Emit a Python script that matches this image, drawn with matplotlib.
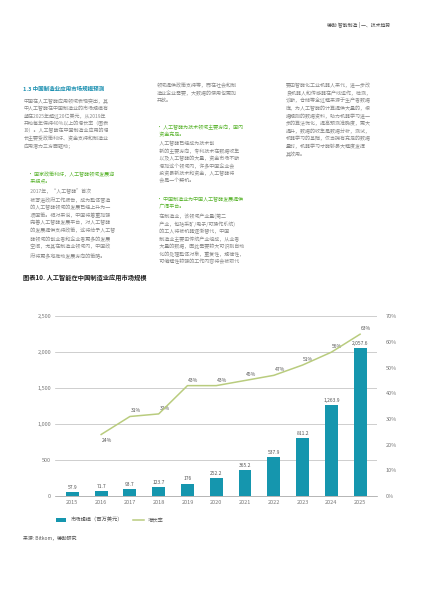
import matplotlib
matplotlib.use("Agg")
import matplotlib.pyplot as plt
from matplotlib.ticker import FuncFormatter

plt.rcParams['font.family'] = ['Noto Sans CJK SC', 'DejaVu Sans']

years = ['2015','2016','2017','2018','2019','2020','2021','2022','2023','2024','2025']
market = [57.9, 71.7, 93.7, 123.7, 176, 252.2, 365.2, 537.9, 811.2, 1263.9, 2057.6]
market_labels = ['57.9','71.7','93.7','123.7','176','252.2','365.2','537.9','811.2','1,263.9','2,057.6']
growth = [None, 24, 31, 32, 43, 43, 45, 47, 51, 56, 63]

fig = plt.figure(figsize=(4.24, 6), dpi=100)
fig.patch.set_facecolor('white')

grey = '#8a8a8a'
green = '#5cb531'
fig.text(0.92, 0.955, '德勤 智能制造 | 一、技术趋势', ha='right', fontsize=3.5, color='#555555')

col1 = "中国在人工智能应用领域表现突出，其\n中人工智能在中国制造业的市场规模有\n望在2025年超过20亿美元，从2019年\n开始每年保持40%以上的增长率（图表\n10）。人工智能在中国制造业应用的增\n长主要受政策利好、资金支持和制造业\n应用潜力三方面驱动；"
fig.text(0.055, 0.848, '1.3 中国制造业应用市场规模预测', fontsize=4, color='#1a8fb0', fontweight='bold')
fig.text(0.055, 0.836, col1, fontsize=3.6, color=grey, va='top', linespacing=1.5)
fig.text(0.065, 0.715, "• 国家政策利好，人工智能领域发展迎\n  来拐点。", fontsize=3.6, color=green, va='top', linespacing=1.5)
fig.text(0.065, 0.686, "  2017年，“人工智能”首次\n  被写进政府工作报告，成为整体营造\n  的人工智能领域的发展已经上升为一\n  项国策。相对来说，中国将着重加强\n  完善人工智能发展平台，对人工智能\n  的发展提供支持政策，这将给予人工智\n  能领域的创业者和企业者更多的发展\n  空间，尤其在制造业领域内，中国政\n  府将更多地推动发展方向的策略。", fontsize=3.6, color=grey, va='top', linespacing=1.5)

fig.text(0.37, 0.862, "领域提供政策支持等，而在社会和制\n造业企业需要，大数据的使用也更加\n开放。", fontsize=3.6, color=grey, va='top', linespacing=1.5)
fig.text(0.37, 0.792, "• 人工智能为技术领域主要方向，国内\n  资金充足。", fontsize=3.6, color=green, va='top', linespacing=1.5)
fig.text(0.37, 0.765, "  人工智能已经成为技术创\n  新的主要方向，专利技术在数据收集\n  以及人工智能的大量，资金市场不断\n  增加这个领域内，许多中国企业会\n  投资最新技术和资金，人工智能将\n  会是一个契机。", fontsize=3.6, color=grey, va='top', linespacing=1.5)
fig.text(0.37, 0.672, "• 中国制造业为中国人工智能发展提供\n  广阔平台。", fontsize=3.6, color=green, va='top', linespacing=1.5)
fig.text(0.37, 0.645, "  在制造业，该领域产业量(第二\n  产业，包括采矿/电子/可操作系统)\n  的工人将被机器逐渐替代，中国\n  制造业主要由传统产业组成，从业者\n  大量的数据，因此需要较大可识别自动\n  化的处理整体对象，重复性，规律性，\n  可编程性较强的工作内容将会被取代", fontsize=3.6, color=grey, va='top', linespacing=1.5)

fig.text(0.675, 0.862, "要由智能化工业机器人来代，进一步改\n良机器人和传感器在产线运作，检测，\n诊断，仓储等全过程来源于生产者数据\n库，为人工智能的计算提供大量的，根\n据规则的数据资料，助力机器学习进一\n步的算法优化，提高预测准确度，更大\n提升，数据的收集是数据分析，测试，\n机器学习的基础，仅当拥有充足的数据\n量时，机器学习才能够最大程度发挥\n其效用。", fontsize=3.6, color=grey, va='top', linespacing=1.5)

fig.text(0.055, 0.533, '图表10. 人工智能在中国制造业应用市场规模', fontsize=4.5, color='#222222', fontweight='bold')

ax = fig.add_axes([0.13, 0.173, 0.76, 0.30])
x = list(range(len(years)))
bars = ax.bar(x, market, width=0.45, color='#1596ae', zorder=3, label='市场规模（百万美元）')
for xi, v, lab in zip(x, market, market_labels):
    ax.text(xi, v + 30, lab, ha='center', va='bottom', fontsize=3.6, color='#555555', zorder=4)
ax.set_ylim(0, 2500)
ax.set_yticks([0, 500, 1000, 1500, 2000, 2500])
ax.yaxis.set_major_formatter(FuncFormatter(lambda v, p: f'{int(v):,}'))
ax.set_xticks(x)
ax.set_xticklabels(years)
ax.set_xlim(-0.6, len(years) - 0.4)
ax.grid(axis='y', color='#bbbbbb', linewidth=0.5, zorder=0)
for s in ax.spines.values():
    s.set_visible(False)
ax.spines['bottom'].set_visible(True)
ax.spines['bottom'].set_color('#999999')
ax.spines['bottom'].set_linewidth(0.5)
ax.tick_params(length=0, labelsize=4, colors='#777777', pad=3)

ax2 = ax.twinx()
gx = [xi for xi, g in zip(x, growth) if g is not None]
gy = [g for g in growth if g is not None]
line, = ax2.plot(gx, gy, color='#b9cc7e', linewidth=1.1, zorder=5, label='增长率')
for xi, g in zip(gx, gy):
    off = -3.5 if xi == 1 else 1.2
    ax2.text(xi + 0.2, g + off, f'{g}%', ha='center', va='bottom', fontsize=3.6, color='#555555')
ax2.set_ylim(0, 70)
ax2.set_yticks(range(0, 71, 10))
ax2.yaxis.set_major_formatter(FuncFormatter(lambda v, p: f'{int(v)}%'))
for s in ax2.spines.values():
    s.set_visible(False)
ax2.tick_params(length=0, labelsize=4, colors='#777777', pad=6)

fig.legend(handles=[bars, line], loc='upper left', bbox_to_anchor=(0.12, 0.145), ncol=2,
           frameon=False, fontsize=3.8, handlelength=2, labelcolor='#555555')
fig.text(0.055, 0.1, '来源: Bitkom，德勤研究', fontsize=3.5, color='#555555')

fig.savefig('out.png', dpi=100, facecolor='white')
